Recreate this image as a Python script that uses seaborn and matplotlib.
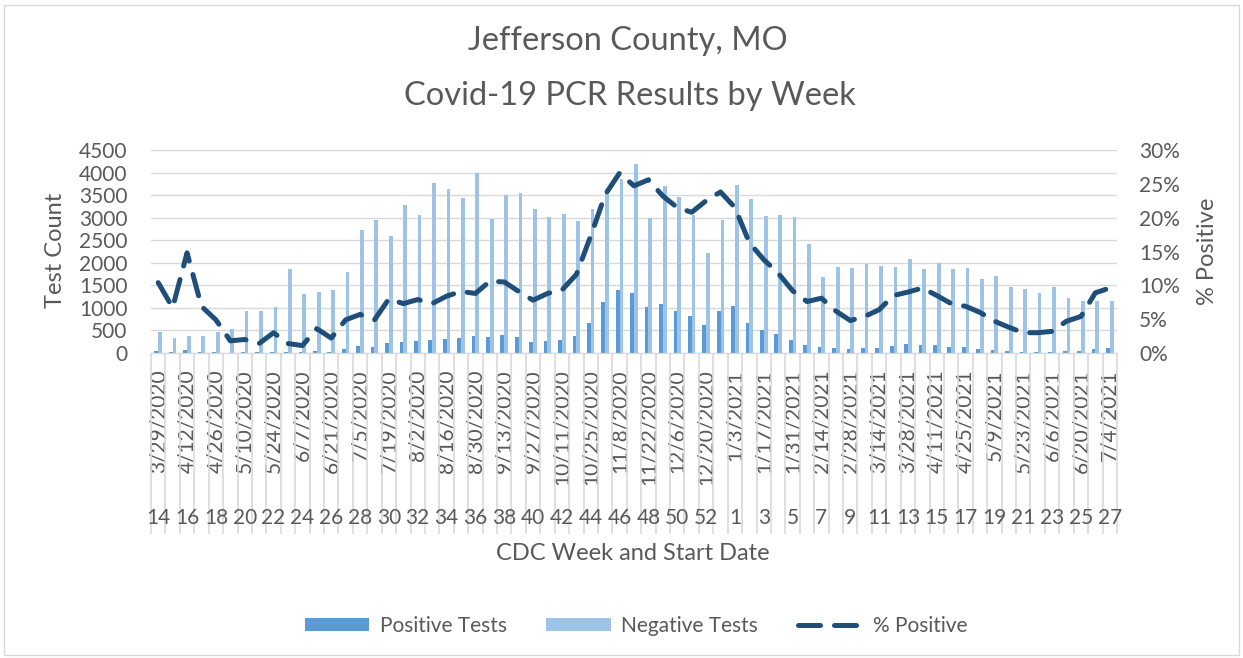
"""
Jefferson County, MO - Covid-19 PCR results by CDC week
Bars: positive / negative tests, dashed line: % positive (right axis)
"""
import numpy as np
import pandas as pd
import matplotlib
matplotlib.use("Agg")
import matplotlib.pyplot as plt
from matplotlib.patches import Rectangle
from matplotlib.ticker import FuncFormatter
import seaborn as sns

sns.set_style("white")
plt.rcParams["font.family"] = ["Lato", "DejaVu Sans"]

TEXT = "#595959"
GRID = "#D9D9D9"
POS_COLOR = "#5B9BD5"
NEG_COLOR = "#9DC3E6"
LINE_COLOR = "#1F4E79"

# -----------------------------------------------------------------
# Data
# -----------------------------------------------------------------
cdc_week = [14, 15, 16, 17, 18, 19, 20, 21, 22, 23, 24, 25, 26, 27, 28, 29, 30,
            31, 32, 33, 34, 35, 36, 37, 38, 39, 40, 41, 42, 43, 44, 45, 46, 47,
            48, 49, 50, 51, 52, 53,
            1, 2, 3, 4, 5, 6, 7, 8, 9, 10, 11, 12, 13, 14, 15, 16, 17, 18, 19,
            20, 21, 22, 23, 24, 25, 26, 27]

start_date = ["3/29/2020", "4/5/2020", "4/12/2020", "4/19/2020", "4/26/2020",
              "5/3/2020", "5/10/2020", "5/17/2020", "5/24/2020", "5/31/2020",
              "6/7/2020", "6/14/2020", "6/21/2020", "6/28/2020", "7/5/2020",
              "7/12/2020", "7/19/2020", "7/26/2020", "8/2/2020", "8/9/2020",
              "8/16/2020", "8/23/2020", "8/30/2020", "9/6/2020", "9/13/2020",
              "9/20/2020", "9/27/2020", "10/4/2020", "10/11/2020", "10/18/2020",
              "10/25/2020", "11/1/2020", "11/8/2020", "11/15/2020", "11/22/2020",
              "11/29/2020", "12/6/2020", "12/13/2020", "12/20/2020", "12/27/2020",
              "1/3/2021", "1/10/2021", "1/17/2021", "1/24/2021", "1/31/2021",
              "2/7/2021", "2/14/2021", "2/21/2021", "2/28/2021", "3/7/2021",
              "3/14/2021", "3/21/2021", "3/28/2021", "4/4/2021", "4/11/2021",
              "4/18/2021", "4/25/2021", "5/2/2021", "5/9/2021", "5/16/2021",
              "5/23/2021", "5/30/2021", "6/6/2021", "6/13/2021", "6/20/2021",
              "6/27/2021", "7/4/2021"]

positive_tests = [48, 24, 62, 28, 24, 10, 19, 13, 32, 27, 14, 51, 32, 90, 163,
                  141, 215, 252, 259, 289, 318, 340, 370, 348, 407, 355, 252,
                  274, 296, 370, 673, 1140, 1406, 1339, 1029, 1095, 940, 821,
                  629, 925, 1036, 659, 511, 414, 289, 185, 141, 118, 81, 104,
                  118, 163, 200, 185, 178, 141, 133, 96, 67, 52, 30, 22, 30,
                  44, 52, 96, 111]

negative_tests = [459, 340, 377, 377, 474, 540, 940, 932, 1029, 1872, 1302,
                  1362, 1406, 1798, 2716, 2945, 2583, 3286, 3049, 3759, 3641,
                  3426, 3996, 2960, 3493, 3552, 3197, 3004, 3071, 2916, 3197,
                  3515, 3863, 4181, 2990, 3700, 3448, 3049, 2220, 2945, 3722,
                  3404, 3034, 3049, 3019, 2420, 1695, 1917, 1894, 1983, 1939,
                  1917, 2087, 1872, 1991, 1872, 1887, 1635, 1717, 1465, 1428,
                  1325, 1458, 1228, 1162, 1147, 1162]

pct_positive = [10.4, 6.7, 14.8, 6.9, 4.9, 1.8, 2.0, 1.4, 3.0, 1.4, 1.1, 3.6,
                2.2, 4.9, 5.7, 4.9, 8.0, 7.3, 7.9, 7.3, 8.4, 9.1, 8.8, 10.6,
                10.5, 9.1, 7.8, 8.8, 9.3, 11.6, 17.3, 23.4, 26.6, 24.7, 25.6,
                23.2, 21.5, 20.8, 22.5, 23.8, 21.5, 16.3, 13.8, 11.8, 9.2, 7.6,
                8.1, 6.2, 4.8, 5.4, 6.4, 8.5, 9.0, 9.6, 8.5, 7.3, 6.9, 6.0, 4.7,
                3.8, 3.0, 3.0, 3.2, 4.7, 5.4, 8.9, 9.6]

n = len(cdc_week)
bars = pd.DataFrame({
    "date": start_date * 2,
    "count": positive_tests + negative_tests,
    "series": ["Positive Tests"] * n + ["Negative Tests"] * n,
})

# -----------------------------------------------------------------
# Figure
# -----------------------------------------------------------------
fig = plt.figure(figsize=(12.43, 6.58), dpi=100)
ax = fig.add_axes([151 / 1243, 1 - 353 / 658, 966 / 1243, 203 / 658])

sns.barplot(data=bars, x="date", y="count", hue="series",
            palette=[POS_COLOR, NEG_COLOR], width=0.52, saturation=1,
            linewidth=0, ax=ax)
ax.get_legend().remove()

ax2 = ax.twinx()
sns.lineplot(x=np.arange(n), y=pct_positive, ax=ax2, color=LINE_COLOR,
             lw=3.6, linestyle=(0, (4.4, 2.8)), dash_capstyle="round",
             label="% Positive")
ax2.get_legend().remove()

# axes limits / ticks
ax.set_xlim(-0.5, n - 0.5)
ax.set_ylim(0, 4500)
ax.set_yticks(range(0, 4501, 500))
ax2.set_ylim(0, 30)
ax2.set_yticks(range(0, 31, 5))
ax2.yaxis.set_major_formatter(FuncFormatter(lambda v, p: f"{v:.0f}%"))

ax.set_axisbelow(True)
ax.yaxis.grid(True, color=GRID, lw=1)
ax.xaxis.grid(False)
for a in (ax, ax2):
    for s in ("top", "left", "right"):
        a.spines[s].set_visible(False)
    a.spines["bottom"].set_color(GRID)
    a.set_xlabel("")
    a.set_ylabel("")

ax.tick_params(axis="y", length=0, pad=17, labelsize=15, labelcolor=TEXT)
ax2.tick_params(axis="y", length=0, pad=16, labelsize=15, labelcolor=TEXT)

# multi-level category axis: dates (rotated) + CDC week numbers
ax.set_xticks(range(0, n, 2))
ax.set_xticklabels(start_date[::2], rotation=90, fontsize=15, color=TEXT)
ax.tick_params(axis="x", which="major", bottom=True, length=0, pad=12)
ax.set_xticks(np.arange(-0.5, n, 1), minor=True)
ax.tick_params(axis="x", which="minor", bottom=True, length=130, width=1.2,
               color=GRID, direction="out")
for i in range(0, n, 2):
    ax.annotate(str(cdc_week[i]), xy=(i, 0), xycoords=("data", "axes fraction"),
                xytext=(0, -118.5), textcoords="offset points",
                ha="center", va="center", fontsize=15, color=TEXT)

# titles and labels
fig.text(0.505, 1 - 50 / 658, "Jefferson County, MO", ha="center",
         va="baseline", fontsize=23.5, color=TEXT)
fig.text(0.507, 1 - 105 / 658, "Covid-19 PCR Results by Week", ha="center",
         va="baseline", fontsize=23.5, color=TEXT)
fig.text(55 / 1243, 1 - 250 / 658, "Test Count", rotation=90, ha="center",
         va="center", fontsize=17, color=TEXT)
fig.text(1207 / 1243, 1 - 251 / 658, "% Positive", rotation=90, ha="center",
         va="center", fontsize=17, color=TEXT)
fig.text(633 / 1243, 1 - 553 / 658, "CDC Week and Start Date", ha="center",
         va="center", fontsize=17, color=TEXT)

# legend
h1, l1 = ax.get_legend_handles_labels()
h2, l2 = ax2.get_legend_handles_labels()
fig.legend(h1 + h2, l1 + l2, loc="center", bbox_to_anchor=(636 / 1243, 1 - 626 / 658),
           ncol=3, frameon=False, fontsize=15, labelcolor=TEXT,
           handlelength=3.1, handleheight=0.6, handletextpad=0.5,
           columnspacing=1.9)

# chart border
fig.add_artist(Rectangle((0.003, 0.005), 0.994, 0.988, transform=fig.transFigure,
                         fill=False, edgecolor=GRID, lw=1))

fig.savefig("out.png", dpi=100)
